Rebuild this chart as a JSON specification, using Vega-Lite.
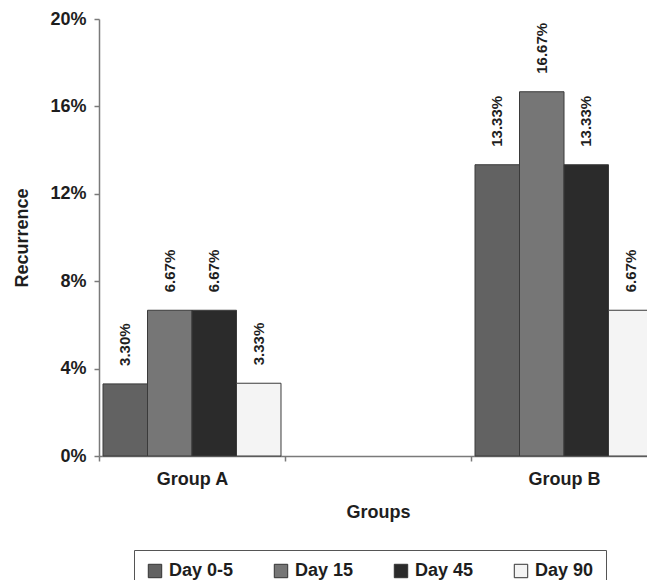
{
  "$schema": "https://vega.github.io/schema/vega-lite/v6.json",
  "autosize": "none",
  "width": 548,
  "height": 437,
  "padding": {"left": 99, "top": 19, "right": 0, "bottom": 124},
  "background": "white",
  "config": {
    "font": "Liberation Sans",
    "view": {"stroke": null},
    "axis": {
      "domainColor": "#7a7a7a",
      "domainWidth": 1.5,
      "tickColor": "#7a7a7a",
      "tickWidth": 1.5,
      "tickSize": 5,
      "grid": false,
      "labelFont": "Liberation Sans",
      "labelFontWeight": "bold",
      "labelFontSize": 18,
      "labelColor": "#1e1e1e",
      "titleFont": "Liberation Sans",
      "titleFontWeight": "bold",
      "titleFontSize": 18,
      "titleColor": "#1e1e1e"
    }
  },
  "data": {
    "values": [
      {"group": "Group A", "day": "Day 0-5", "rate": 0.0330},
      {"group": "Group A", "day": "Day 15", "rate": 0.0667},
      {"group": "Group A", "day": "Day 45", "rate": 0.0667},
      {"group": "Group A", "day": "Day 90", "rate": 0.0333},
      {"group": "Group B", "day": "Day 0-5", "rate": 0.1333},
      {"group": "Group B", "day": "Day 15", "rate": 0.1667},
      {"group": "Group B", "day": "Day 45", "rate": 0.1333},
      {"group": "Group B", "day": "Day 90", "rate": 0.0667}
    ]
  },
  "encoding": {
    "x": {
      "field": "group",
      "type": "nominal",
      "scale": {"domain": ["Group A", "", "Group B"], "range": [0, 558], "paddingInner": 0, "paddingOuter": 0},
      "axis": {"title": "Groups", "labelAngle": 0, "tickBand": "extent", "labelPadding": 9, "titlePadding": 15}
    },
    "xOffset": {
      "field": "day",
      "type": "nominal",
      "scale": {"domain": ["Day 0-5", "Day 15", "Day 45", "Day 90"], "paddingInner": 0, "paddingOuter": 0.09}
    },
    "y": {
      "field": "rate",
      "type": "quantitative",
      "scale": {"domain": [0, 0.2], "nice": false},
      "axis": {"title": "Recurrence", "values": [0, 0.04, 0.08, 0.12, 0.16, 0.2], "format": ".0%", "labelPadding": 8, "titlePadding": 18}
    }
  },
  "layer": [
    {
      "mark": {"type": "bar", "stroke": "#3a3a3a", "strokeWidth": 1},
      "encoding": {
        "color": {
          "field": "day",
          "type": "nominal",
          "scale": {"domain": ["Day 0-5", "Day 15", "Day 45", "Day 90"], "range": ["#626262", "#767676", "#2b2b2b", "#f4f4f4"]},
          "legend": {
            "title": null,
            "orient": "none",
            "legendX": 35,
            "legendY": 531,
            "direction": "horizontal",
            "columns": 4,
            "columnPadding": 38,
            "symbolType": "square",
            "symbolSize": 180,
            "symbolStrokeColor": "#333333",
            "symbolStrokeWidth": 1,
            "symbolOpacity": 1,
            "labelFont": "Liberation Sans",
            "labelFontWeight": "bold",
            "labelFontSize": 18,
            "labelColor": "#1e1e1e",
            "labelOffset": 5,
            "padding": 12,
            "strokeColor": "#555555",
            "fillColor": "white"
          }
        }
      }
    },
    {
      "mark": {"type": "text", "angle": 270, "align": "left", "baseline": "middle", "dx": 18, "font": "Liberation Sans", "fontWeight": "bold", "fontSize": 15, "color": "#1e1e1e"},
      "encoding": {
        "text": {"field": "rate", "type": "quantitative", "format": ".2%"}
      }
    }
  ]
}
